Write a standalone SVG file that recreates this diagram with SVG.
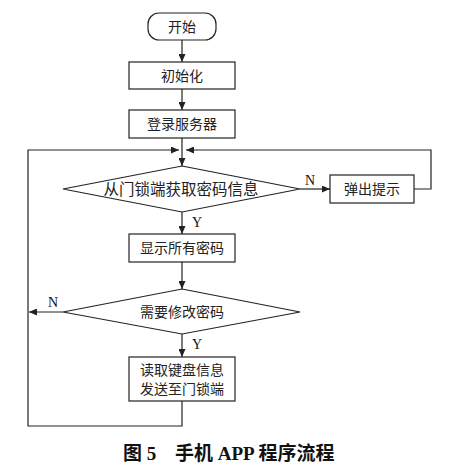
<svg xmlns="http://www.w3.org/2000/svg" width="454" height="471" viewBox="0 0 454 471">
<style>
.n{fill:#fff;stroke:#222;stroke-width:1.2}
.t{font-family:"Noto Sans CJK SC",sans-serif;font-size:14px;fill:#222;text-anchor:middle}
.td{font-size:15.5px}
.c{fill:none;stroke:#222;stroke-width:1.2}
.l{font-family:"Liberation Serif",serif;font-size:14px;fill:#111}
.cap{font-family:"Liberation Serif","Noto Sans CJK SC",serif;font-size:19px;font-weight:bold;fill:#111}
</style>
<defs>
<marker id="a" markerUnits="userSpaceOnUse" markerWidth="8" markerHeight="7" refX="8" refY="3.5" orient="auto">
<path d="M0,0 L8,3.5 L0,7 z" fill="#222"/>
</marker>
</defs>
<rect width="454" height="471" fill="#fff"/>
<g id="connectors">
<path class="c" d="M182,40 V62" marker-end="url(#a)"/>
<path class="c" d="M182,89 V110" marker-end="url(#a)"/>
<path class="c" d="M182,138 V166" marker-end="url(#a)"/>
<path class="c" d="M300,189 H330" marker-end="url(#a)"/>
<path class="c" d="M414,189 H431 V150 H186" marker-end="url(#a)"/>
<path class="c" d="M182,212 V234" marker-end="url(#a)"/>
<path class="c" d="M182,262 V289" marker-end="url(#a)"/>
<path class="c" d="M63,312 H29" marker-end="url(#a)"/>
<path class="c" d="M182,334 V357" marker-end="url(#a)"/>
<path class="c" d="M182,401 V426 H28 V150 H179" marker-end="url(#a)"/>
<text class="l" x="305" y="185">N</text>
<text class="l" x="192" y="227">Y</text>
<text class="l" x="48" y="307">N</text>
<text class="l" x="192" y="349">Y</text>
</g>
<g id="start">
<rect class="n" x="148" y="13" width="68" height="27" rx="11"/>
<text class="t" x="182" y="31.5">开始</text>
</g>
<g id="init">
<rect class="n" x="129" y="62" width="106" height="27"/>
<text class="t" x="182" y="80.5">初始化</text>
</g>
<g id="login">
<rect class="n" x="129" y="110" width="106" height="28"/>
<text class="t" x="182" y="129">登录服务器</text>
</g>
<g id="getpwd">
<polygon class="n" points="182,166 300,189 182,212 63,189"/>
<text class="t td" x="181" y="194.5">从门锁端获取密码信息</text>
</g>
<g id="popup">
<rect class="n" x="330" y="175" width="84" height="28"/>
<text class="t" x="372" y="194">弹出提示</text>
</g>
<g id="show">
<rect class="n" x="129" y="234" width="106" height="28"/>
<text class="t" x="182" y="253">显示所有密码</text>
</g>
<g id="modify">
<polygon class="n" points="182,289 300,312 182,334 63,312"/>
<text class="t" x="182" y="317">需要修改密码</text>
</g>
<g id="send">
<rect class="n" x="129" y="357" width="106" height="44"/>
<text class="t" x="182" y="374.5">读取键盘信息</text>
<text class="t" x="182" y="393.5">发送至门锁端</text>
</g>
<g id="caption">
<text class="cap" x="123" y="460">图 5</text>
<text class="cap" x="175" y="460">手机 APP 程序流程</text>
</g>
</svg>
